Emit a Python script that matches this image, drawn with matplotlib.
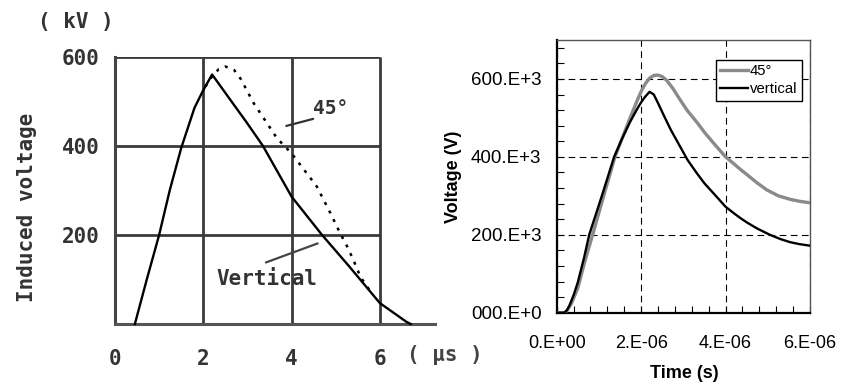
import matplotlib
matplotlib.use("Agg")
import matplotlib.pyplot as plt
from matplotlib.ticker import FixedLocator, MultipleLocator

# ---------------- data: left (scanned measurement figure) ----------------
left_vert_t = [0.45, 0.72, 1.0, 1.24, 1.5, 1.8, 2.0, 2.2, 2.6, 3.0, 3.35, 4.0, 4.69, 5.3, 6.0, 6.6, 6.7]
left_vert_v = [0, 100, 200, 300, 395, 485, 525, 560, 505, 450, 400, 286, 200, 130, 47, 5, 0]
left_45_t = [2.05, 2.2, 2.35, 2.5, 2.7, 2.85, 3.14, 3.67, 4.0, 4.57, 4.88, 5.1, 5.25, 5.4, 5.56, 5.82]
left_45_v = [533, 556, 572, 578, 570, 550, 496, 417, 383, 309, 249, 204, 176, 144, 106, 68]
left_xticks = [0, 2, 4, 6]
left_yticks = [200, 400, 600]

# ---------------- data: right (simulation) ----------------
right_t_vert = [0, 0.18, 0.24, 0.3, 0.4, 0.5, 0.65, 0.77, 1.07, 1.36, 1.55, 1.74, 1.9, 2.0, 2.1,
                2.2, 2.3, 2.4, 2.53, 2.7, 2.92, 3.1, 3.32, 3.5, 3.71, 4.0, 4.2, 4.35, 4.5,
                4.75, 5.05, 5.3, 5.53, 5.75, 6.0]
right_v_vert = [0, 0, 6, 18, 45, 78, 142, 200, 300, 400, 447, 490, 522, 540, 555,
                567, 560, 538, 508, 470, 427, 392, 358, 332, 307, 272, 255, 243, 232,
                216, 200, 189, 181, 176, 172]
right_t_45 = [0, 0.18, 0.25, 0.35, 0.5, 0.65, 0.85, 1.1, 1.38, 1.72, 1.9, 2.0, 2.1, 2.2, 2.3,
              2.4, 2.5, 2.6, 2.75, 2.92, 3.1, 3.32, 3.5, 3.71, 4.0, 4.2, 4.35, 4.5, 4.75,
              4.98, 5.25, 5.53, 5.75, 6.0]
right_v_45 = [0, 0, 6, 24, 63, 125, 200, 295, 400, 495, 543, 568, 588, 602, 609,
              610, 606, 597, 576, 547, 518, 489, 463, 436, 400, 382, 368, 355, 333,
              315, 300, 291, 286, 282]
right_xticks = [0, 2e-6, 4e-6, 6e-6]
right_xticklabels = ["0.E+00", "2.E-06", "4.E-06", "6.E-06"]
right_yticks = [0, 200e3, 400e3, 600e3]
right_yticklabels = ["000.E+0", "200.E+3", "400.E+3", "600.E+3"]

W, H = 844, 384
fig = plt.figure(figsize=(W / 100, H / 100), dpi=100)

# ================= LEFT PANEL =================
mono = "DejaVu Sans Mono"
tcol = "#333333"
axL = fig.add_axes([115 / W, 1 - 324 / H, (435 - 115) / W, (324 - 56.7) / H])
axL.set_xlim(0, 7.25)
axL.set_ylim(0, 600)
for s in ["top", "right"]:
    axL.spines[s].set_visible(False)
axL.spines["left"].set_linewidth(2.2)
axL.spines["left"].set_color("#444444")
axL.spines["bottom"].set_linewidth(2.2)
axL.spines["bottom"].set_color("#555555")

gcol = "#3a3a3a"
axL.hlines([200, 400, 600], 0, 6, colors=gcol, linewidth=2.0, zorder=1)
axL.vlines([2, 4, 6], 0, 600, colors=gcol, linewidth=2.0, zorder=1)

axL.plot(left_vert_t, left_vert_v, color="black", linewidth=1.7, zorder=3, clip_on=False)
axL.plot(left_45_t, left_45_v, color="black", linewidth=1.8, linestyle=(0, (1.2, 2.6)), zorder=3)

axL.set_xticks(left_xticks)
axL.set_xticklabels([str(v) for v in left_xticks], fontfamily=mono, fontsize=15,
                    fontweight="bold", color=tcol)
axL.set_yticks(left_yticks)
axL.set_yticklabels([str(v) for v in left_yticks], fontfamily=mono, fontsize=15,
                    fontweight="bold", color=tcol)
axL.tick_params(axis="both", length=0)
axL.tick_params(axis="x", pad=18)
axL.tick_params(axis="y", pad=11)

axL.text(-0.275, 0.438, "Induced voltage", transform=axL.transAxes, rotation=90,
         ha="center", va="center", fontfamily=mono, fontsize=15, fontweight="bold", color=tcol)
axL.text(-0.122, 1.13, "( kV )", transform=axL.transAxes, ha="center", va="center",
         fontfamily=mono, fontsize=15, fontweight="bold", color=tcol)
axL.text(7.48, -0.116, "( µs )", transform=axL.get_xaxis_transform(), ha="center", va="center",
         fontfamily=mono, fontsize=15, fontweight="bold", color="#444444", clip_on=False)

axL.text(4.88, 483, "45°", ha="center", va="center", fontfamily=mono, fontsize=14,
         fontweight="bold", color=tcol)
axL.annotate("", xy=(3.82, 443), xytext=(4.55, 462),
             arrowprops=dict(arrowstyle="-", color="#333333", lw=1.6))
axL.text(3.44, 101, "Vertical", ha="center", va="center", fontfamily=mono, fontsize=15,
         fontweight="bold", color=tcol)
axL.annotate("", xy=(4.65, 183), xytext=(3.36, 136),
             arrowprops=dict(arrowstyle="-", color="#444444", lw=1.6))

# ================= RIGHT PANEL =================
sans = "Liberation Sans"
axR = fig.add_axes([556.7 / W, 1 - 312.7 / H, (810 - 556.7) / W, (312.7 - 40) / H])
tR45 = [t * 1e-6 for t in right_t_45]
vR45 = [v * 1e3 for v in right_v_45]
tRv = [t * 1e-6 for t in right_t_vert]
vRv = [v * 1e3 for v in right_v_vert]
axR.plot(tR45, vR45, color="#8a8a8a", linewidth=2.4, label="45°", zorder=3,
         solid_joinstyle="round")
axR.plot(tRv, vRv, color="black", linewidth=1.7, label="vertical", zorder=4,
         solid_joinstyle="round")
axR.set_xlim(0, 6e-6)
axR.set_ylim(0, 700e3)

axR.xaxis.set_major_locator(FixedLocator(right_xticks))
axR.set_xticklabels(right_xticklabels, fontfamily=sans, fontsize=13)
axR.yaxis.set_major_locator(FixedLocator(right_yticks))
axR.set_yticklabels(right_yticklabels, fontfamily=sans, fontsize=13.5)
axR.xaxis.set_minor_locator(MultipleLocator(0.4e-6))
axR.yaxis.set_minor_locator(MultipleLocator(40e3))
axR.tick_params(axis="both", which="both", direction="in", length=5, width=0.8,
                top=False, right=False)
axR.tick_params(axis="x", which="major", pad=16)
axR.tick_params(axis="y", which="major", pad=11)
axR.grid(True, which="major", color="black", linestyle=(0, (6, 4)), linewidth=0.8)
axR.set_axisbelow(True)

for s in ["left", "bottom"]:
    axR.spines[s].set_linewidth(1.6)
    axR.spines[s].set_color("black")
for s in ["top", "right"]:
    axR.spines[s].set_linewidth(1.0)
    axR.spines[s].set_color("#555555")

axR.set_xlabel("Time (s)", fontfamily=sans, fontsize=13, fontweight="bold")
axR.set_ylabel("Voltage (V)", fontfamily=sans, fontsize=13, fontweight="bold")
axR.xaxis.set_label_coords(0.503, -0.19)
axR.yaxis.set_label_coords(-0.375, 0.50)

leg = axR.legend(loc="upper right", bbox_to_anchor=(0.968, 0.927), borderaxespad=0,
                 prop={"family": sans, "size": 10.7}, handlelength=1.9, handletextpad=0.1,
                 borderpad=0.3, labelspacing=0.25, fancybox=False, framealpha=1,
                 edgecolor="black")
leg.get_frame().set_linewidth(1.0)

fig.savefig("out.png", dpi=100)
